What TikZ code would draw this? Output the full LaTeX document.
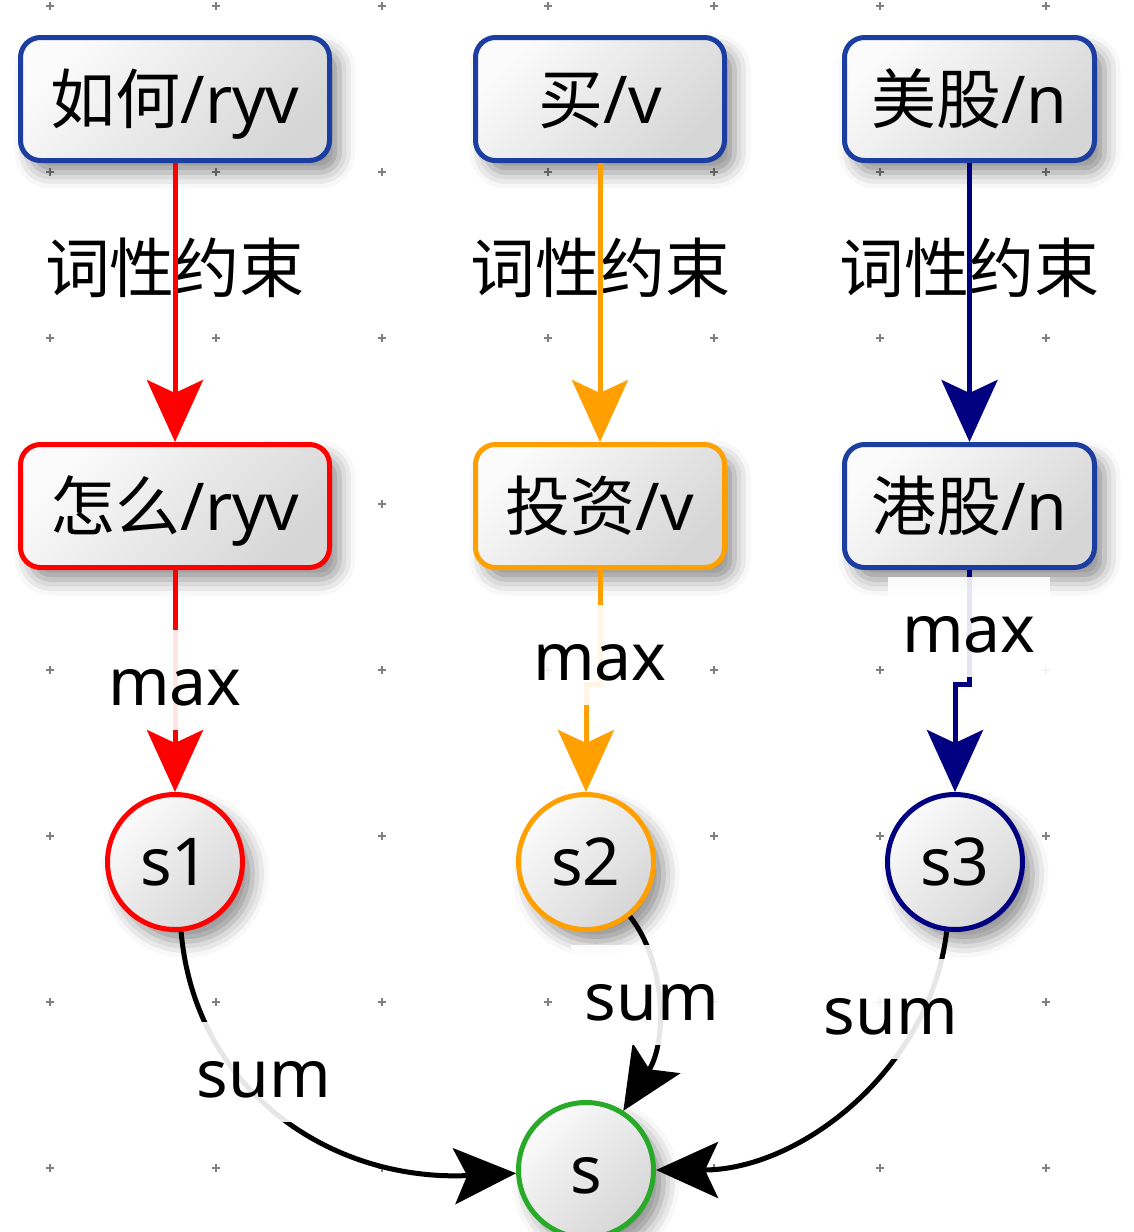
\documentclass[tikz,border=0pt]{standalone}
\usepackage{fontspec}
\setmainfont{Noto Sans}
\newfontfamily\cjk{Noto Sans CJK SC}
\usetikzlibrary{arrows.meta,shadows.blur}
\definecolor{boxblue}{RGB}{28,62,160}
\definecolor{myred}{RGB}{255,0,0}
\definecolor{myorange}{RGB}{255,160,0}
\definecolor{mynavy}{RGB}{0,0,128}
\definecolor{mygreen}{RGB}{40,170,40}
\newcommand\zhtxt[1]{{\cjk\fontsize{65}{70}\selectfont #1}}
\tikzset{
  every node/.style={font=\fontsize{66}{72}\selectfont},
  nodeshade/.style={top color=gray!3, bottom color=gray!32, shading angle=45, line width=5pt,
    blur shadow={shadow xshift=10pt, shadow yshift=-12pt, shadow blur radius=16pt, shadow opacity=45}},
  wordbox/.style={nodeshade, rectangle, rounded corners=20pt, minimum height=123pt,
    text height=57pt, text depth=8pt, inner sep=0pt},
  scircle/.style={nodeshade, circle, minimum size=135pt, inner sep=0pt, text height=47pt, text depth=0pt},
  elabel/.style={fill=white, fill opacity=0.9, text opacity=1, anchor=base,
    inner xsep=14pt, inner ysep=19pt, text height=56pt, text depth=6pt},
  clabel/.style={text height=57pt, text depth=8pt, inner sep=0pt},
  conn/.style={line width=5pt, -{Stealth[length=62pt, width=56pt, inset=13pt]}},
  gridmark/.style={gray, line width=1.2pt}
}
\begin{document}
\begin{tikzpicture}[x=1pt, y=-1pt]
\useasboundingbox (0,0) rectangle (1134,1232);
% grid marks
\foreach \gx in {50,216,...,1046}
  \foreach \gy in {6,172,...,1168}
    \draw[gridmark] (\gx,\gy) +(-4,0) -- +(4,0) +(0,-4) -- +(0,4);
% top row
\node[wordbox, draw=boxblue, minimum width=309pt] (a1) at (175,99) {\zhtxt{如何}/ryv};
\node[wordbox, draw=boxblue, minimum width=249pt] (a2) at (600,99) {\zhtxt{买}/v};
\node[wordbox, draw=boxblue, minimum width=250pt] (a3) at (969.5,99) {\zhtxt{美股}/n};
% second row
\node[wordbox, draw=myred, minimum width=309pt] (b1) at (175,506) {\zhtxt{怎么}/ryv};
\node[wordbox, draw=myorange, minimum width=249pt] (b2) at (600,506) {\zhtxt{投资}/v};
\node[wordbox, draw=boxblue, minimum width=250pt] (b3) at (969.5,506) {\zhtxt{港股}/n};
% circles
\node[scircle, draw=myred] (c1) at (175,862) {s1};
\node[scircle, draw=myorange] (c2) at (586,862) {s2};
\node[scircle, draw=mynavy] (c3) at (955,862) {s3};
\node[scircle, draw=mygreen] (s) at (586,1170) {s};
% constraint labels
\node[clabel] (k1) at (175,268) {\zhtxt{词性约束}};
\node[clabel] (k2) at (600,268) {\zhtxt{词性约束}};
\node[clabel] (k3) at (969.5,268) {\zhtxt{词性约束}};
% edges
\draw[conn, myred] (a1) -- (b1);
\draw[conn, myorange] (a2) -- (b2);
\draw[conn, mynavy] (a3.south) -- (b3.north);
\draw[conn, myred] (b1) -- (c1);
\draw[conn, myorange] (b2.south) -- ++(0,114) -| (c2.north);
\draw[conn, mynavy] (b3.south) -- ++(0,114) -| (c3.north);
\draw[conn, black] (c1) .. controls (195,1090) and (330,1182) .. (s);
\draw[conn, black] (c2) .. controls (665,960) and (668,1040) .. (s);
\draw[conn, black] (c3) .. controls (930,1070) and (800,1170) .. (s);
% edge labels
\node[elabel] (m1) at (175,705) {max};
\node[elabel] (m2) at (600,680) {max};
\node[elabel] (m3) at (969,652) {max};
\node[elabel] (u1) at (264,1097) {sum};
\node[elabel] (u2) at (652,1020) {sum};
\node[elabel] (u3) at (891,1034) {sum};
\end{tikzpicture}
\end{document}
